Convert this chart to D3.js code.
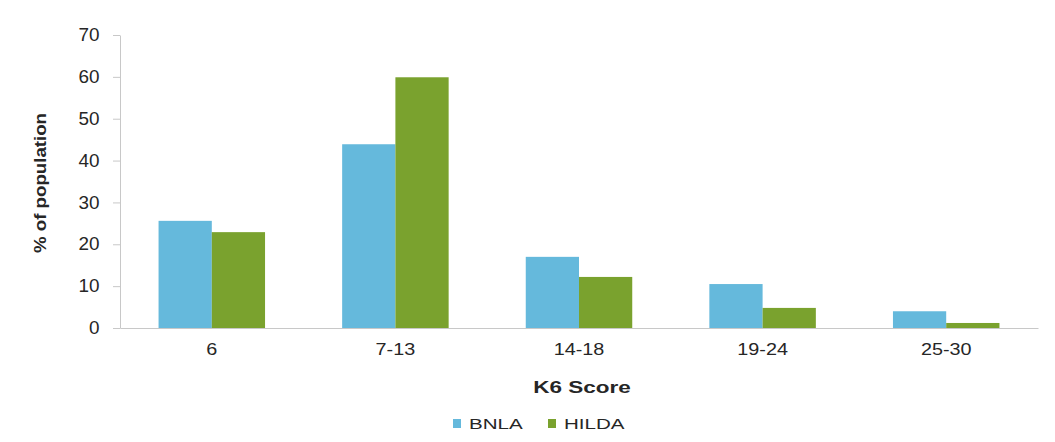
<!DOCTYPE html>
<meta charset="utf-8">
<style>
  body { margin: 0; background: #fff; }
  text { font-family: "Liberation Sans", Arial, sans-serif; fill: #262626; }
  .axis path, .axis line { stroke: #c8c8c8; }
</style>
<svg width="1055" height="442"></svg>
<script src="https://cdn.jsdelivr.net/npm/d3@7"></script>
<script>

  // data
  var categories = ["6", "7-13", "14-18", "19-24", "25-30"];
  var seriesNames = ["BNLA", "HILDA"];
  var bnla = [25.6, 43.9, 17.0, 10.5, 4.0];
  var hilda = [22.9, 59.9, 12.2, 4.8, 1.2];
  var yTicks = [0, 10, 20, 30, 40, 50, 60, 70];
  var colors = ["#65b9dc", "#7aa22e"];

  var svg = d3.select("svg"),
    margin = { top: 35, right: 17, bottom: 114, left: 120 },
    width = svg.attr("width") - margin.left - margin.right,
    height = svg.attr("height") - margin.top - margin.bottom,
    g = svg.append("g").attr("transform", "translate(" + margin.left + "," + margin.top + ")");

  var rows = categories.map(function (c, i) {
    return { cat: c, values: [bnla[i], hilda[i]] };
  });

  var x0 = d3.scaleBand().domain(categories).range([0, width]).paddingInner(0.42).paddingOuter(0.21);
  var x1 = d3.scaleBand().domain(seriesNames).range([0, x0.bandwidth()]);
  var y = d3.scaleLinear().domain([0, 70]).range([height, 0]);
  var color = d3.scaleOrdinal().domain(seriesNames).range(colors);

  // y axis (the source image is a bit stretched sideways, so the text is too)
  var yAxis = g.append("g")
    .attr("class", "axis axis--y")
    .call(d3.axisLeft(y).tickValues(yTicks).tickSize(7).tickPadding(12).tickSizeOuter(0));
  yAxis.selectAll("text")
    .style("font-size", "17.5px")
    .attr("transform", "scale(1.08,1)");

  // bars
  var group = g.selectAll(".group")
    .data(rows)
    .enter().append("g")
    .attr("class", "group")
    .attr("transform", function (d) { return "translate(" + x0(d.cat) + ",0)"; });

  group.selectAll("rect")
    .data(function (d) { return d.values.map(function (v, i) { return { key: seriesNames[i], value: v }; }); })
    .enter().append("rect")
    .attr("x", function (d) { return x1(d.key); })
    .attr("width", x1.bandwidth())
    .attr("y", function (d) { return y(d.value); })
    .attr("height", function (d) { return height - y(d.value); })
    .attr("fill", function (d) { return color(d.key); });

  // x axis
  var xAxis = g.append("g")
    .attr("class", "axis axis--x")
    .attr("transform", "translate(0," + height + ")")
    .call(d3.axisBottom(x0).tickSize(0).tickPadding(15));
  xAxis.selectAll("text")
    .style("font-size", "16.5px")
    .attr("transform", "scale(1.2,1)");

  // axis titles
  g.append("text")
    .attr("transform", "rotate(-90)")
    .attr("x", -148)
    .attr("y", -74)
    .attr("text-anchor", "middle")
    .attr("textLength", 140)
    .attr("lengthAdjust", "spacingAndGlyphs")
    .style("font-size", "17px")
    .style("font-weight", "bold")
    .text("% of population");

  g.append("text")
    .attr("transform", "translate(" + (x0.range()[1] / 2 + 3) + "," + (height + 65) + ") scale(1.38,1)")
    .attr("text-anchor", "middle")
    .style("font-size", "16.3px")
    .style("font-weight", "bold")
    .text("K6 Score");

  // legend
  var legendX = [453, 548];
  var legend = svg.append("g").attr("transform", "translate(0,429)");
  var item = legend.selectAll(".item")
    .data(seriesNames)
    .enter().append("g")
    .attr("class", "item")
    .attr("transform", function (d, i) { return "translate(" + legendX[i] + ",0)"; });
  item.append("rect")
    .attr("x", 0).attr("y", -10)
    .attr("width", 8).attr("height", 9)
    .attr("fill", function (d) { return color(d); });
  item.append("text")
    .attr("transform", "translate(16,0) scale(1.37,1)")
    .style("font-size", "15px")
    .text(function (d) { return d; });

</script>
